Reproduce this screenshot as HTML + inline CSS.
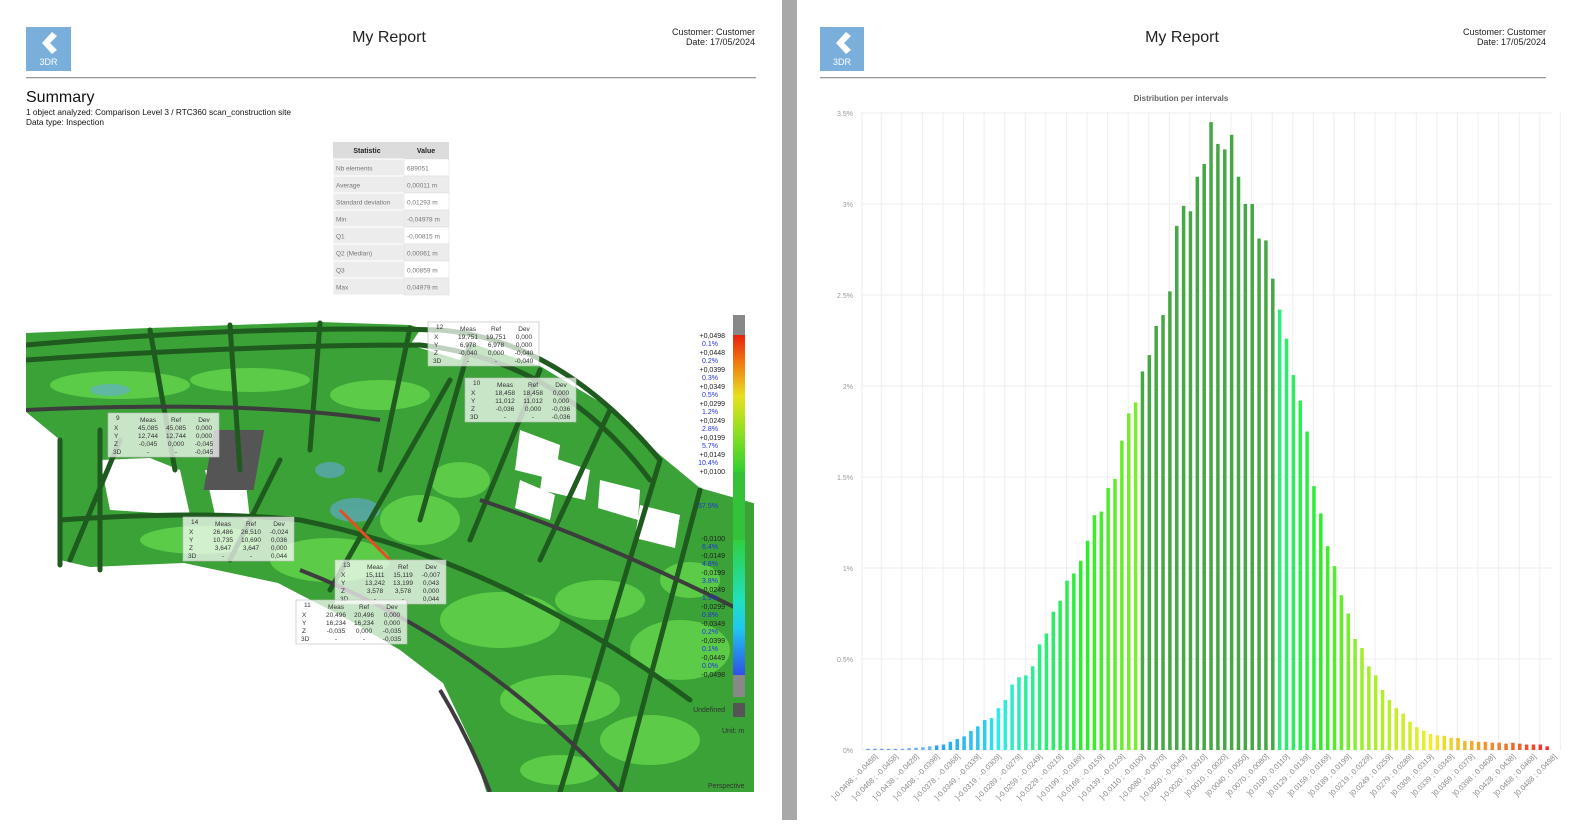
<!DOCTYPE html>
<html><head><meta charset="utf-8">
<style>
html,body{margin:0;padding:0;background:#fff;}
body{width:1580px;height:820px;overflow:hidden;font-family:"Liberation Sans",Arial,sans-serif;}
svg text{font-family:"Liberation Sans",Arial,sans-serif;}
</style></head>
<body>
<svg id="s" width="1580" height="820" viewBox="0 0 1580 820" xmlns="http://www.w3.org/2000/svg">
<defs>
<clipPath id="scene"><rect x="26" y="315" width="728" height="477"/></clipPath>
<linearGradient id="cbTop" x1="0" y1="0" x2="0" y2="1">
<stop offset="0" stop-color="#e8200c"/><stop offset="0.2" stop-color="#f07a10"/><stop offset="0.45" stop-color="#e8e020"/><stop offset="0.7" stop-color="#90e020"/><stop offset="1" stop-color="#30d030"/>
</linearGradient>
<linearGradient id="cbBot" x1="0" y1="0" x2="0" y2="1">
<stop offset="0" stop-color="#30d040"/><stop offset="0.45" stop-color="#20e0c0"/><stop offset="0.65" stop-color="#20c8f0"/><stop offset="1" stop-color="#3050e8"/>
</linearGradient>
</defs>
<rect x="782" y="0" width="15" height="820" fill="#a8a8a8"/>

<rect x="26" y="27" width="45" height="44" fill="#7aaedb"/>
<path d="M52 32 L42 43 L52 54 L57 50 L50 43 L57 36 Z" fill="#fff"/>
<text x="48.5" y="65" font-size="9" fill="#fff" text-anchor="middle">3DR</text>
<text x="389" y="42" font-size="16" fill="#222" text-anchor="middle">My Report</text>
<text x="755" y="35" font-size="9" fill="#222" text-anchor="end">Customer: Customer</text>
<text x="755" y="45" font-size="9" fill="#222" text-anchor="end">Date: 17/05/2024</text>
<rect x="26" y="77" width="730" height="1.3" fill="#999"/>
<text x="26" y="102" font-size="16" fill="#111">Summary</text>
<text x="26" y="115" font-size="8.3" fill="#111">1 object analyzed: Comparison Level 3 / RTC360 scan_construction site</text>
<text x="26" y="125" font-size="8.3" fill="#111">Data type: Inspection</text>

<g id="tbl"></g>

<g clip-path="url(#scene)">
<polygon points="26,333 150,328 320,322 410,325 470,343 540,366 610,408 660,455 700,488 760,505 760,800 489,800 470,740 443,683 400,650 349,620 278,583 184,563 90,567 60,560 60,440 26,412" fill="#3aa236"/>
<g fill="#5fd04a" opacity="0.9">
<ellipse cx="120" cy="385" rx="70" ry="14"/><ellipse cx="250" cy="380" rx="60" ry="12"/><ellipse cx="380" cy="395" rx="50" ry="15"/>
<ellipse cx="200" cy="540" rx="60" ry="14"/><ellipse cx="330" cy="560" rx="60" ry="22"/><ellipse cx="420" cy="520" rx="40" ry="25"/>
<ellipse cx="500" cy="620" rx="60" ry="28"/><ellipse cx="600" cy="600" rx="45" ry="20"/><ellipse cx="560" cy="700" rx="60" ry="25"/>
<ellipse cx="680" cy="650" rx="50" ry="30"/><ellipse cx="650" cy="740" rx="50" ry="25"/><ellipse cx="560" cy="770" rx="40" ry="15"/>
<ellipse cx="460" cy="480" rx="30" ry="18"/><ellipse cx="690" cy="580" rx="30" ry="18"/>
</g>
<g fill="#66aadd" opacity="0.6"><ellipse cx="110" cy="390" rx="20" ry="6"/><ellipse cx="355" cy="510" rx="25" ry="12"/><ellipse cx="330" cy="470" rx="15" ry="8"/></g>
<g fill="#fff">
<polygon points="26,412 60,440 60,520 26,520"/>
<polygon points="100,460 150,458 180,470 190,515 110,510"/>
<polygon points="205,470 245,475 250,520 215,515"/>
<polygon points="520,430 560,445 555,480 515,470"/>
<polygon points="545,455 590,470 585,500 540,490"/>
<polygon points="600,480 640,490 638,520 598,508"/>
<polygon points="640,505 680,515 675,548 635,538"/>
<polygon points="520,480 555,495 550,520 515,508"/>
<polygon points="26,315 760,315 760,320 440,322 320,318 26,326"/>
<polygon points="420,330 470,340 460,360 410,345"/>
</g>
<rect x="290" y="430" width="50" height="60" fill="#555" transform="skewX(-10)"/>
<g stroke="#1f5a1f" stroke-width="5" fill="none" stroke-linecap="round">
<path d="M26 345 Q250 325 440 330 Q560 340 660 460"/>
<path d="M26 360 Q250 345 420 345 Q560 360 650 480"/>
<path d="M60 520 Q200 510 300 520 Q500 560 690 700"/>
<path d="M60 440 L60 565"/><path d="M100 430 L100 570"/>
<path d="M150 330 L175 470"/><path d="M230 325 L240 470"/><path d="M320 323 L310 450"/>
<path d="M410 328 L380 470"/><path d="M470 345 L420 520"/>
<path d="M540 370 L470 540"/><path d="M610 410 L540 560"/>
<path d="M660 460 L560 792"/><path d="M700 490 L620 792"/>
<path d="M120 440 L70 560"/><path d="M280 460 L230 560"/><path d="M450 380 L330 590"/>
</g>
<g stroke="#3d3d3d" stroke-width="4" fill="none">
<path d="M26 410 Q250 400 380 420"/>
<path d="M300 570 Q480 640 620 792"/>
<path d="M480 500 Q600 540 740 610"/>
<path d="M440 690 Q470 740 490 792"/>
</g>
<path d="M340 510 L390 560" stroke="#e05020" stroke-width="3"/>
<g id="callouts"></g>
<rect x="733" y="315" width="12" height="20" fill="#888"/>
<rect x="733" y="335" width="12" height="137" fill="url(#cbTop)"/>
<rect x="733" y="472" width="12" height="68" fill="#34c23a"/>
<rect x="733" y="540" width="12" height="135" fill="url(#cbBot)"/>
<rect x="733" y="675" width="12" height="22" fill="#888"/>
<rect x="733" y="703" width="12" height="14" fill="#555"/>
<g id="cblab" font-size="7"></g>
</g>

<rect x="820" y="27" width="44" height="44" fill="#7aaedb"/>
<path d="M846 32 L836 43 L846 54 L851 50 L844 43 L851 36 Z" fill="#fff"/>
<text x="842" y="65" font-size="9" fill="#fff" text-anchor="middle">3DR</text>
<text x="1182" y="42" font-size="16" fill="#222" text-anchor="middle">My Report</text>
<text x="1546" y="35" font-size="9" fill="#222" text-anchor="end">Customer: Customer</text>
<text x="1546" y="45" font-size="9" fill="#222" text-anchor="end">Date: 17/05/2024</text>
<rect x="820" y="77" width="726" height="1.3" fill="#999"/>
<text x="1181" y="101" font-size="8" font-weight="bold" fill="#666" text-anchor="middle">Distribution per intervals</text>
<g id="chart"></g>
</svg>
<script>
(function(){
var NS="http://www.w3.org/2000/svg";
function el(p,t,a,txt){var e=document.createElementNS(NS,t);for(var k in a)e.setAttribute(k,a[k]);if(txt!==undefined)e.textContent=txt;p.appendChild(e);return e;}
var tb=document.getElementById('tbl');
var rows=[["Nb elements","689051"],["Average","0,00011 m"],["Standard deviation","0,01293 m"],["Min","-0,04978 m"],["Q1","-0,00815 m"],["Q2 (Median)","0,00061 m"],["Q3","0,00859 m"],["Max","0,04979 m"]];
el(tb,'rect',{x:333,y:142,width:116,height:17,fill:'#dcdcdc'});
el(tb,'text',{x:367,y:153,'font-size':7,'font-weight':'bold',fill:'#222','text-anchor':'middle'},'Statistic');
el(tb,'text',{x:426,y:153,'font-size':7,'font-weight':'bold',fill:'#222','text-anchor':'middle'},'Value');
for(var i=0;i<8;i++){var y=159+i*17;
el(tb,'rect',{x:333,y:y,width:71,height:17,fill:'#ececec',stroke:'#fff','stroke-width':1});
el(tb,'rect',{x:404,y:y,width:45,height:17,fill:i%2?'#ececec':'#fff',stroke:'#e0e0e0','stroke-width':0.6});
el(tb,'text',{x:336,y:y+11.5,'font-size':6.5,fill:'#777'},rows[i][0]);
el(tb,'text',{x:407,y:y+11.5,'font-size':6.5,fill:'#777'},rows[i][1]);}
var co=document.getElementById('callouts');
var boxes=[[428,322,"12",["19,751","19,751","0,000"],["6,978","6,978","0,000"],["-0,040","0,000","-0,040"],"-0,040"],
[465,378,"10",["18,458","18,458","0,000"],["11,012","11,012","0,000"],["-0,036","0,000","-0,036"],"-0,036"],
[108,413,"9",["45,085","45,085","0,000"],["12,744","12,744","0,000"],["-0,045","0,000","-0,045"],"-0,045"],
[183,517,"14",["26,486","26,510","-0,024"],["10,735","10,690","0,036"],["3,647","3,647","0,000"],"0,044"],
[335,560,"13",["15,111","15,119","-0,007"],["13,242","13,199","0,043"],["3,578","3,578","0,000"],"0,044"],
[296,600,"11",["20,496","20,496","0,000"],["16,234","16,234","0,000"],["-0,035","0,000","-0,035"],"-0,035"]];
boxes.forEach(function(b){var x=b[0],y=b[1];
el(co,'rect',{x:x,y:y,width:111,height:44,fill:'#fff','fill-opacity':0.72,stroke:'#bbb','stroke-width':0.6});
el(co,'text',{x:x+8,y:y+7,'font-size':6.5,fill:'#333'},b[2]);
['Meas','Ref','Dev'].forEach(function(t,j){el(co,'text',{x:x+40+j*28,y:y+9,'font-size':6.5,fill:'#333','text-anchor':'middle'},t);});
['X','Y','Z'].forEach(function(t,r){el(co,'text',{x:x+6,y:y+17+r*8,'font-size':6.5,fill:'#333'},t);
 for(var j=0;j<3;j++)el(co,'text',{x:x+40+j*28,y:y+17+r*8,'font-size':6.5,fill:'#333','text-anchor':'middle'},b[3+r][j]);});
el(co,'text',{x:x+5,y:y+41,'font-size':6.5,fill:'#333'},'3D');
el(co,'text',{x:x+40,y:y+41,'font-size':6.5,fill:'#333','text-anchor':'middle'},'-');
el(co,'text',{x:x+68,y:y+41,'font-size':6.5,fill:'#333','text-anchor':'middle'},'-');
el(co,'text',{x:x+96,y:y+41,'font-size':6.5,fill:'#333','text-anchor':'middle'},b[6]);});
var cl=document.getElementById('cblab');
var topL=[["+0,0498","0.1%"],["+0,0448","0.2%"],["+0,0399","0.3%"],["+0,0349","0.5%"],["+0,0299","1.2%"],["+0,0249","2.8%"],["+0,0199","5.7%"],["+0,0149","10.4%"]];
topL.forEach(function(p,i){var y=338+i*17;el(cl,'text',{x:725,y:y,fill:'#222','text-anchor':'end'},p[0]);el(cl,'text',{x:718,y:y+8,fill:'#2233dd','text-anchor':'end'},p[1]);});
el(cl,'text',{x:725,y:474,fill:'#222','text-anchor':'end'},"+0,0100");
el(cl,'text',{x:718,y:508,fill:'#2233dd','text-anchor':'end'},"57.5%");
var botL=[["-0,0100","6.4%"],["-0,0149","4.8%"],["-0,0199","3.8%"],["-0,0249","1.9%"],["-0,0299","0.8%"],["-0,0349","0.2%"],["-0,0399","0.1%"],["-0,0449","0.0%"]];
botL.forEach(function(p,i){var y=541+i*17;el(cl,'text',{x:725,y:y,fill:'#222','text-anchor':'end'},p[0]);el(cl,'text',{x:718,y:y+8,fill:'#2233dd','text-anchor':'end'},p[1]);});
el(cl,'text',{x:725,y:677,fill:'#222','text-anchor':'end'},"-0,0498");
el(cl,'text',{x:725,y:712,fill:'#333','text-anchor':'end'},"Undefined");
el(cl,'text',{x:722,y:733,fill:'#333'},"Unit: m");
el(cl,'text',{x:708,y:788,fill:'#333'},"Perspective");
var ch=document.getElementById('chart');
var y0=750,ppu=182,x0=868,dx=6.86;
for(var g=0;g<=7;g++){var gy=y0-g*0.5*ppu;
 el(ch,'line',{x1:862,x2:1552,y1:gy,y2:gy,stroke:'#ececec','stroke-width':1});
 el(ch,'text',{x:853,y:gy+3,'font-size':7,fill:'#999','text-anchor':'end'},(g*0.5)+'%');}
el(ch,'line',{x1:862,x2:862,y1:112,y2:750,stroke:'#ececec'});
for(var k=0;k<34;k++){var gx=x0+(3*k+2)*dx-0.5;el(ch,'line',{x1:gx,x2:gx,y1:112,y2:750,stroke:'#eeeeee'});}
var v=[];for(var i=0;i<6;i++)v.push(0.005);
v=v.concat([0.01,0.012,0.015,0.02,0.025,0.03,0.045,0.06,0.075,0.105,0.13,0.165,0.175,0.23,0.275,0.36,0.40,0.41,0.46,0.58,0.64,0.76,0.82,0.93,0.97,1.04,1.15,1.29,1.31,1.44,1.49,1.70,1.85,1.91,
2.08,2.17,2.33,2.39,2.52,2.88,2.99,2.96,3.15,3.22,3.45,3.33,3.30,3.38,3.15,3.00,3.00,2.81,2.80,2.59,
2.42,2.26,2.06,1.92,1.75,1.45,1.30,1.12,1.01,0.85,0.75,0.61,0.56,0.46,0.41,0.33,0.275,0.23,0.2,0.155,0.125,0.106,0.088,0.08,0.078,0.066,0.066,
0.05,0.05,0.045,0.045,0.04,0.04,0.035,0.04,0.035,0.03,0.03,0.03,0.02]);
function hue(i){var pts=[[0,222],[9,205],[17,190],[24,152],[31,122],[39,95],[60,145],[66,120],[72,85],[83,58],[88,40],[99,2]];
 for(var j=0;j<pts.length-1;j++){if(i>=pts[j][0]&&i<=pts[j+1][0]){var t=(i-pts[j][0])/(pts[j+1][0]-pts[j][0]);return pts[j][1]+t*(pts[j+1][1]-pts[j][1]);}}return 0;}
for(var i=0;i<100;i++){var h=v[i]*ppu;if(h<1.2)h=1.2;var col;
 if(i>=40&&i<=59)col='#45a845';else{var L=i<10?68:55;col='hsl('+hue(i).toFixed(0)+','+(i<10?80:85)+'%,'+L+'%)';}
 el(ch,'rect',{x:(x0+i*dx-1.7).toFixed(2),y:(y0-h).toFixed(2),width:3.5,height:h.toFixed(2),fill:col});}
function f(n){var s=Math.abs(n).toFixed(4);return (n<-0.00004?'-':'')+s;}
for(var k=0;k<34;k++){var a=-0.0498+0.002988*k,b=a+0.001;var lx=x0+10+k*3*dx,ly=757;
 el(ch,'text',{x:lx,y:ly,'font-size':7.5,fill:'#888','text-anchor':'end',transform:'rotate(-45 '+lx+' '+ly+')'},']'+f(a)+' ; '+f(b)+']');}
})();
</script>
</body></html>
